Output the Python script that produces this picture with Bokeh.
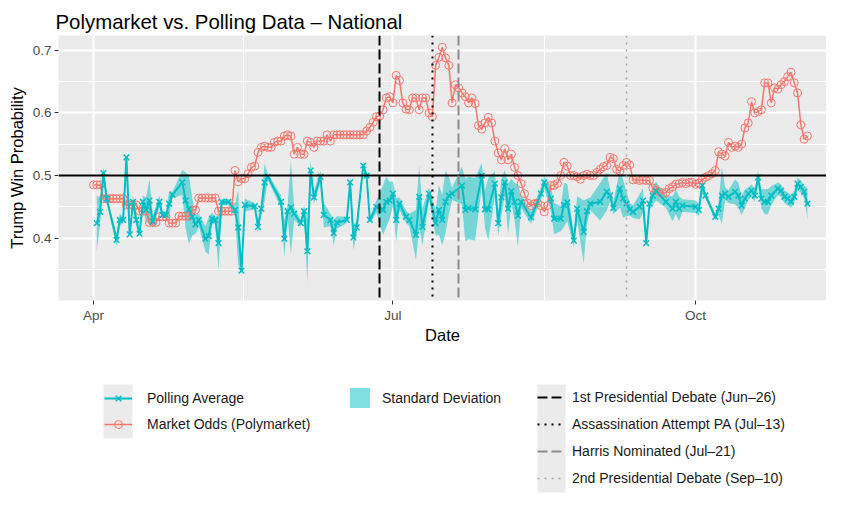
import pandas as pd
from bokeh.plotting import figure
from bokeh.layouts import column
from bokeh.models import Range1d, FixedTicker, DatetimeTickFormatter, Legend, LegendItem
from bokeh.embed import file_html
from bokeh.resources import INLINE

# ---------------- data ----------------
START = "2024-04-01"
END = "2024-11-04"

# daily Polymarket odds, Apr 1 .. Nov 4 (218 days)
market_odds = [
    0.485, 0.485, 0.485, 0.463, 0.463, 0.463, 0.463, 0.463, 0.463, 0.463,
    0.453, 0.453, 0.453, 0.453, 0.443, 0.443, 0.443, 0.425, 0.425, 0.425,
    0.434, 0.434, 0.434, 0.424, 0.424, 0.424, 0.435, 0.435, 0.435, 0.435,
    0.445, 0.445, 0.464, 0.464, 0.464, 0.464, 0.464, 0.464, 0.443, 0.443,
    0.443, 0.443, 0.443, 0.508, 0.490, 0.495, 0.495, 0.503, 0.513, 0.515,
    0.537, 0.545, 0.547, 0.545, 0.545, 0.553, 0.555, 0.555, 0.563, 0.565,
    0.563, 0.534, 0.545, 0.534, 0.534, 0.555, 0.553, 0.545, 0.555, 0.555,
    0.555, 0.565, 0.555, 0.565, 0.565, 0.565, 0.565, 0.565, 0.565, 0.565,
    0.565, 0.565, 0.565, 0.571, 0.577, 0.585, 0.594, 0.595, 0.605, 0.624,
    0.626, 0.616, 0.660, 0.652, 0.616, 0.606, 0.605, 0.624, 0.624, 0.605,
    0.624, 0.624, 0.600, 0.594, 0.676, 0.689, 0.705, 0.688, 0.676, 0.616,
    0.645, 0.640, 0.632, 0.626, 0.616, 0.624, 0.615, 0.580, 0.574, 0.584,
    0.593, 0.584, 0.555, 0.536, 0.525, 0.543, 0.525, 0.534, 0.513, 0.500,
    0.487, 0.471, 0.456, 0.452, 0.455, 0.456, 0.452, 0.442, 0.452, 0.484,
    0.484, 0.487, 0.500, 0.521, 0.515, 0.500, 0.500, 0.498, 0.494, 0.500,
    0.502, 0.500, 0.500, 0.505, 0.510, 0.514, 0.516, 0.529, 0.527, 0.510,
    0.507, 0.516, 0.521, 0.517, 0.493, 0.494, 0.492, 0.493, 0.492, 0.492,
    0.480, 0.476, 0.474, 0.471, 0.473, 0.479, 0.482, 0.486, 0.487, 0.489,
    0.487, 0.489, 0.489, 0.486, 0.488, 0.493, 0.497, 0.500, 0.503, 0.508,
    0.538, 0.534, 0.531, 0.553, 0.545, 0.547, 0.545, 0.550, 0.576, 0.584,
    0.618, 0.600, 0.602, 0.605, 0.648, 0.648, 0.616, 0.640, 0.638, 0.645,
    0.650, 0.658, 0.665, 0.648, 0.632, 0.581, 0.558, 0.563,
]

# polling average: days after Apr 1, value, standard deviation
poll_day = [
    1, 2, 3, 4, 7, 8, 9, 10, 11, 12, 13, 14, 15, 16, 17, 18,
    20, 21, 22, 23, 24, 27, 28, 29, 30, 31, 32, 34, 35, 36, 37, 38, 39,
    41, 43, 44, 45, 46, 49, 50, 51, 52, 53, 57, 58, 59, 60, 61, 63, 64, 65, 66, 67,
    69, 70, 72, 73, 74, 77, 78, 79, 80, 82, 83, 84, 86, 88, 89, 90, 91, 92, 93,
    95, 96, 98, 99, 100, 102, 104, 105, 106, 107, 108, 109, 112, 113, 114, 116, 118,
    119, 120, 122, 123, 124, 125, 126, 127, 128, 129, 130,
    133, 136, 137, 139, 140, 142, 143, 144, 146, 147, 149, 150, 151, 154, 156, 157,
    158, 160, 161, 162, 163, 164, 166, 167, 168, 169, 170, 171,
    174, 176, 177, 178, 179, 183, 184, 185, 186, 189, 190, 191, 192, 193, 195, 196,
    197, 198, 199, 200, 201, 202, 203, 204, 205, 206, 208, 209, 210, 211, 212, 213,
    214, 215, 216, 217,
]
poll_avg = [
    0.424, 0.442, 0.504, 0.463, 0.397, 0.429, 0.429, 0.529, 0.406, 0.458, 0.429, 0.407, 0.458, 0.445, 0.460, 0.426,
    0.458, 0.437, 0.437, 0.455, 0.469, 0.489, 0.460, 0.446, 0.434, 0.422, 0.429, 0.399, 0.403, 0.431, 0.429, 0.392, 0.458,
    0.458, 0.445, 0.417, 0.348, 0.453, 0.451, 0.418, 0.447, 0.489, 0.498, 0.458, 0.399, 0.443, 0.449, 0.439, 0.424, 0.443, 0.379, 0.508, 0.465,
    0.498, 0.437, 0.429, 0.408, 0.425, 0.429, 0.489, 0.401, 0.417, 0.516, 0.500, 0.429, 0.450, 0.445, 0.458, 0.460, 0.471, 0.429, 0.455,
    0.434, 0.429, 0.405, 0.466, 0.418, 0.471, 0.424, 0.445, 0.429, 0.458, 0.468, 0.471, 0.484, 0.445, 0.448, 0.446, 0.500,
    0.446, 0.446, 0.487, 0.424, 0.465, 0.489, 0.447, 0.475, 0.458, 0.436, 0.458,
    0.433, 0.471, 0.489, 0.463, 0.431, 0.431, 0.453, 0.457, 0.396, 0.447, 0.410, 0.443, 0.455, 0.458, 0.474, 0.468,
    0.448, 0.479, 0.463, 0.455, 0.446, 0.442, 0.450, 0.460, 0.392, 0.455, 0.468, 0.475,
    0.458, 0.447, 0.458, 0.447, 0.452, 0.450, 0.445, 0.484, 0.468, 0.434, 0.447, 0.468, 0.471, 0.466, 0.474, 0.468,
    0.452, 0.463, 0.471, 0.476, 0.468, 0.497, 0.463, 0.458, 0.458, 0.468, 0.479, 0.476, 0.466, 0.463, 0.458, 0.466,
    0.487, 0.482, 0.474, 0.455,
]
poll_sd = [
    0.045, 0.020, 0.010, 0.005, 0.010, 0.010, 0.005, 0.005, 0.005, 0.010, 0.010, 0.005, 0.010, 0.020, 0.035, 0.010,
    0.010, 0.005, 0.005, 0.020, 0.005, 0.020, 0.045, 0.055, 0.030, 0.015, 0.010, 0.020, 0.030, 0.010, 0.005, 0.045, 0.005,
    0.005, 0.010, 0.060, 0.005, 0.010, 0.005, 0.010, 0.010, 0.030, 0.005, 0.010, 0.030, 0.010, 0.075, 0.010, 0.005, 0.010, 0.050, 0.015, 0.010,
    0.010, 0.020, 0.010, 0.020, 0.010, 0.005, 0.010, 0.020, 0.010, 0.005, 0.005, 0.005, 0.010, 0.040, 0.040, 0.030, 0.020, 0.035, 0.010,
    0.010, 0.010, 0.040, 0.050, 0.030, 0.010, 0.020, 0.040, 0.040, 0.050, 0.030, 0.010, 0.030, 0.050, 0.050, 0.050, 0.020,
    0.030, 0.050, 0.020, 0.020, 0.030, 0.020, 0.040, 0.020, 0.030, 0.050, 0.010,
    0.010, 0.010, 0.010, 0.020, 0.025, 0.020, 0.035, 0.030, 0.010, 0.020, 0.050, 0.020, 0.010, 0.030, 0.030, 0.010,
    0.010, 0.030, 0.030, 0.020, 0.010, 0.010, 0.020, 0.020, 0.005, 0.010, 0.015, 0.015,
    0.010, 0.020, 0.020, 0.020, 0.010, 0.010, 0.010, 0.010, 0.005, 0.005, 0.010, 0.045, 0.010, 0.010, 0.020, 0.020,
    0.015, 0.015, 0.010, 0.010, 0.010, 0.010, 0.015, 0.020, 0.020, 0.015, 0.010, 0.010, 0.010, 0.010, 0.010, 0.010,
    0.010, 0.010, 0.010, 0.025,
]

event_dates = ["2024-06-27", "2024-07-13", "2024-07-21", "2024-09-10"]
event_labels = [
    "1st Presidential Debate (Jun–26)",
    "Assassination Attempt PA (Jul–13)",
    "Harris Nominated (Jul–21)",
    "2nd Presidential Debate (Sep–10)",
]

x_tick_dates = ["2024-04-01", "2024-07-01", "2024-10-01"]
x_minor_dates = ["2024-05-16 12:00", "2024-08-16"]
y_ticks = [0.4, 0.5, 0.6, 0.7]
y_minor = [0.35, 0.45, 0.55, 0.65]

assert len(poll_day) == len(poll_avg) == len(poll_sd)

# ---------------- derived ----------------
def ms(s):
    return pd.Timestamp(s).value / 1e6

day0 = pd.Timestamp(START)
mkt_dates = pd.date_range(START, END, freq="D")
assert len(mkt_dates) == len(market_odds)
poll_dates = day0 + pd.to_timedelta(poll_day, unit="D")
poll_low = [a - s for a, s in zip(poll_avg, poll_sd)]
poll_high = [a + s for a, s in zip(poll_avg, poll_sd)]

TEAL = "#00BFC4"
RED = "#F8766D"
FONT = "Liberation Sans"
W = 826
MAIN_H = 346
LEG_H = 148
LEFT = 58

p = figure(
    width=W, height=MAIN_H, x_axis_type="datetime",
    output_backend="svg", toolbar_location=None,
    x_range=Range1d(ms(day0 - pd.Timedelta(days=10.64)), ms(day0 + pd.Timedelta(days=222.8))),
    y_range=Range1d(0.3003, 0.7237),
    min_border_left=LEFT, min_border_right=0, min_border_top=35, min_border_bottom=43,
)
p.background_fill_color = "#EBEBEB"
p.border_fill_color = "white"
p.outline_line_color = None

p.title.text = "Polymarket vs. Polling Data – National"
p.title.text_font = FONT
p.title.text_font_size = "20.4px"
p.title.text_font_style = "normal"
p.title.text_color = "black"
p.title.align = "left"
p.title.vertical_align = "middle"
p.title.offset = -3
p.title.standoff = 4

p.xaxis.ticker = FixedTicker(ticks=[ms(d) for d in x_tick_dates],
                             minor_ticks=[ms(d) for d in x_minor_dates])
p.xaxis.formatter = DatetimeTickFormatter(days="%b", months="%b", years="%b",
                                          hours="%b", minutes="%b", seconds="%b")
p.yaxis.ticker = FixedTicker(ticks=y_ticks, minor_ticks=y_minor)
p.xaxis.axis_label = "Date"
p.yaxis.axis_label = "Trump Win Probability"

for ax in (p.xaxis[0], p.yaxis[0]):
    ax.axis_line_color = None
    ax.major_tick_line_color = "#333333"
    ax.major_tick_line_width = 1
    ax.major_tick_out = 4
    ax.major_tick_in = 0
    ax.minor_tick_line_color = None
    ax.major_label_text_font = FONT
    ax.major_label_text_font_size = "13.5px"
    ax.major_label_text_color = "#4D4D4D"
    ax.major_label_standoff = 3
    ax.axis_label_text_font = FONT
    ax.axis_label_text_font_size = "16.5px"
    ax.axis_label_text_font_style = "normal"
    ax.axis_label_text_color = "black"
p.xaxis[0].axis_label_standoff = 0
p.yaxis[0].axis_label_standoff = 4

for g in (p.xgrid[0], p.ygrid[0]):
    g.grid_line_color = "white"
    g.grid_line_width = 2
    g.minor_grid_line_color = "white"
    g.minor_grid_line_width = 1

# ---------------- glyphs ----------------
band_style = dict(fill_color=TEAL, fill_alpha=0.5)
mkt_line_style = dict(line_color=RED, line_width=1.5)
mkt_pt_style = dict(marker="circle", size=8, fill_color=None, line_color=RED, line_width=1)
poll_line_style = dict(line_color=TEAL, line_width=2)
poll_pt_style = dict(marker="x", size=8, line_color=TEAL, line_width=1.5)
event_styles = [
    dict(line_color="black", line_dash="10 4", line_width=2),
    dict(line_color="black", line_dash="2 5", line_width=2),
    dict(line_color="#8C8C8C", line_dash="10 4", line_width=2),
    dict(line_color="#A6A6A6", line_dash="2 5", line_width=1.5),
]

p.varea(x=poll_dates, y1=poll_low, y2=poll_high, **band_style)
p.line(mkt_dates, market_odds, **mkt_line_style)
p.scatter(mkt_dates, market_odds, **mkt_pt_style)
p.line(poll_dates, poll_avg, **poll_line_style)
p.scatter(poll_dates, poll_avg, **poll_pt_style)
p.hspan(y=[0.5], line_color="black", line_width=2)
for d, st in zip(event_dates, event_styles):
    p.vspan(x=[pd.Timestamp(d)], **st)

# ---------------- legend panel (below the plot) ----------------
# its frame is aligned with the plot frame (starts at LEFT); x range = page pixels
lf = figure(width=W, height=LEG_H, output_backend="svg", toolbar_location=None,
            x_axis_location=None, y_axis_location=None,
            x_range=Range1d(LEFT, W), y_range=Range1d(LEG_H, 0), min_border=0)
lf.grid.visible = False
lf.outline_line_color = None
lf.background_fill_color = "white"
lf.border_fill_color = "white"

# grey key backgrounds (ggplot style), page pixels / pixels from panel top
key_bg_left = [103, 537]
key_bg_right = [132, 565]
key_bg_top = [38, 38]
key_bg_bottom = [92, 146]
lf.quad(left=key_bg_left, right=key_bg_right, top=key_bg_top, bottom=key_bg_bottom,
        fill_color="#EBEBEB", line_color=None)

# legend-key renderers (one invisible NaN row so the legend can draw them)
NAN = [float("nan")]
k_poll_line = lf.line(x=NAN, y=NAN, **poll_line_style)
k_poll_pt = lf.scatter(x=NAN, y=NAN, **poll_pt_style)
k_mkt_line = lf.line(x=NAN, y=NAN, **mkt_line_style)
k_mkt_pt = lf.scatter(x=NAN, y=NAN, **mkt_pt_style)
k_band = lf.varea(x=NAN, y1=NAN, y2=NAN, **band_style)
k_events = [lf.line(x=NAN, y=NAN, **st) for st in event_styles]


def add_legend(items, left, vy, gw, gh, lh, spacing, standoff):
    lg = Legend(items=items, location=(left - LEFT, vy), orientation="vertical",
                padding=0, margin=0, spacing=spacing,
                border_line_color=None, background_fill_alpha=0,
                label_text_font=FONT, label_text_font_size="14px",
                label_text_color="#1A1A1A",
                glyph_width=gw, glyph_height=gh, label_height=lh,
                label_standoff=standoff)
    lf.add_layout(lg)


add_legend([LegendItem(label="Polling Average", renderers=[k_poll_line, k_poll_pt]),
            LegendItem(label="Market Odds (Polymarket)", renderers=[k_mkt_line, k_mkt_pt])],
           104, 60, 28, 20, 20, 6, 15)
add_legend([LegendItem(label="Standard Deviation", renderers=[k_band])],
           347, 84, 25, 25, 25, 0, 10)
add_legend([LegendItem(label=lab, renderers=[r]) for lab, r in zip(event_labels, k_events)],
           537, 6, 28, 20, 20, 7, 7)

layout = column(p, lf, spacing=0)
open("out.html", "w").write(file_html(layout, INLINE))
